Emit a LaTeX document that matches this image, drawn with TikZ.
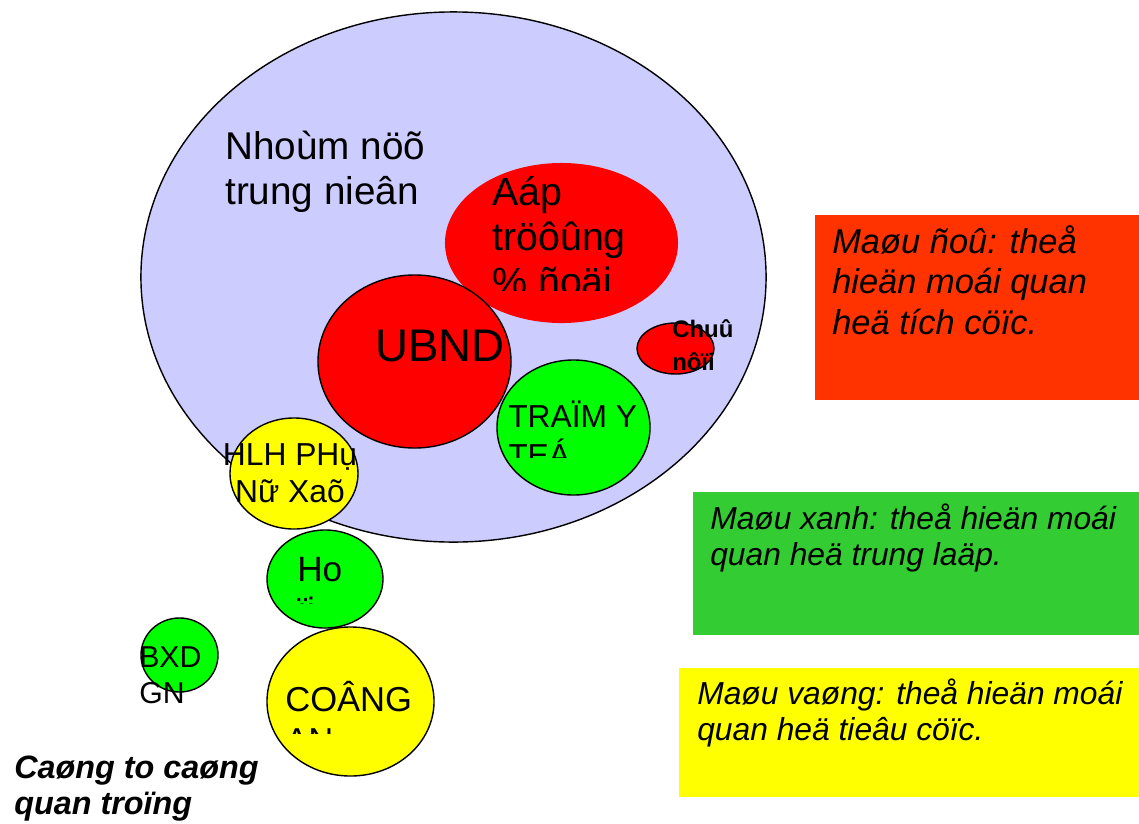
\documentclass[tikz,border=0pt]{standalone}
\usepackage{fontspec}
\setmainfont{Liberation Sans}
\usetikzlibrary{shapes.geometric}
\definecolor{tim}{HTML}{CCCCFF}
\definecolor{do}{HTML}{FF0000}
\definecolor{xanh}{HTML}{00FF00}
\definecolor{vang}{HTML}{FFFF00}
\definecolor{docam}{HTML}{FF3300}
\definecolor{xanhla}{HTML}{33CC33}
\begin{document}
\begin{tikzpicture}[x=0.025cm,y=-0.025cm,
    vong/.style={ellipse,draw=black,line width=1pt,inner sep=0pt},
    hop/.style={rectangle,inner sep=0pt},
    chu/.style={anchor=base west,inner sep=0pt,align=left}]
  \useasboundingbox (0,0) rectangle (1139,823);
  % cac vong tron
  \node[vong,fill=tim,minimum width=15.625cm,minimum height=13.25cm] (nhom) at (453.5,277) {};
  \node[vong,draw=none,fill=do,minimum width=5.825cm,minimum height=4cm] (aap) at (561.5,243) {};
  \node[vong,fill=do,minimum width=4.825cm,minimum height=4.325cm] (ubnd) at (414.5,361.5) {};
  \node[vong,fill=do,minimum width=1.925cm,minimum height=1.275cm] (chuno) at (675.5,348.5) {};
  \node[vong,fill=xanh,minimum width=3.825cm,minimum height=3.375cm] (tramyte) at (573.5,427.5) {};
  \node[vong,fill=vang,minimum width=3.2cm,minimum height=2.775cm] (hlhpn) at (294,473.5) {};
  \node[vong,fill=xanh,minimum width=2.9cm,minimum height=2.45cm] (hoi) at (325,579) {};
  \node[vong,fill=xanh,minimum width=1.925cm,minimum height=1.85cm] (bxdgn) at (179.5,655) {};
  \node[vong,fill=vang,minimum width=4.175cm,minimum height=3.725cm] (congan) at (350.5,701.5) {};
  % chu trong vong (moc o dong cuoi)
  \node[chu,font=\fontsize{27.5}{32}\selectfont] (nhom-t) at (225,204) {Nhoùm nöõ\\trung nieân};
  \begin{scope}
    \clip (440,150) rectangle (700,290);
    \node[chu,font=\fontsize{28}{32}\selectfont] (aap-t) at (492,295) {Aáp\\tröôûng\\\% ñoäi};
  \end{scope}
  \node[chu,font=\fontsize{32.5}{38}\selectfont] (ubnd-t) at (375,361) {UBND};
  \node[chu,font=\bfseries\fontsize{17}{22.8}\selectfont] (chuno-t) at (672,370) {Chuû\\nôïi};
  \begin{scope}
    \clip (490,350) rectangle (660,457);
    \node[chu,font=\fontsize{22.6}{27.7}\selectfont] (tramyte-t) at (508,466) {TRAÏM Y\\TEÁ};
  \end{scope}
  \node[chu,anchor=base,align=center,font=\fontsize{22.6}{26.3}\selectfont] (hlhpn-t) at (290,502) {HLH PHụ\\Nữ Xaõ};
  \begin{scope}
    \clip (260,530) rectangle (390,603);
    \node[chu,font=\fontsize{25}{28.5}\selectfont] (hoi-t) at (297,622) {Ho\\ïi};
  \end{scope}
  \node[chu,font=\fontsize{21.5}{25}\selectfont] (bxdgn-t) at (139,703) {BXD\\GN};
  \begin{scope}
    \clip (260,620) rectangle (440,733);
    \node[chu,font=\fontsize{24.6}{28.5}\selectfont] (congan-t) at (285,752) {COÂNG\\AN};
  \end{scope}
  % chu thich mau
  \node[hop,fill=docam,minimum width=8.1cm,minimum height=4.625cm] (maudo) at (977,307.5) {};
  \node[hop,fill=xanhla,minimum width=11.15cm,minimum height=3.575cm] (mauxanh) at (916,563.5) {};
  \node[hop,fill=vang,minimum width=11.5cm,minimum height=3.225cm] (mauvang) at (909,732.5) {};
  \node[chu,font=\itshape\fontsize{24.5}{28.5}\selectfont] (maudo-t) at (832,334) {Maøu ñoû: theå\\hieän moái quan\\heä tích cöïc.};
  \node[chu,font=\itshape\fontsize{22.6}{25}\selectfont] (mauxanh-t) at (710,565) {Maøu xanh: theå hieän moái\\quan heä trung laäp.};
  \node[chu,font=\itshape\fontsize{22.6}{25}\selectfont] (mauvang-t) at (697,740) {Maøu vaøng: theå hieän moái\\quan heä tieâu cöïc.};
  \node[chu,font=\bfseries\itshape\fontsize{23}{25}\selectfont] (ghichu) at (14,814) {Caøng to caøng\\quan troïng};
\end{tikzpicture}
\end{document}
